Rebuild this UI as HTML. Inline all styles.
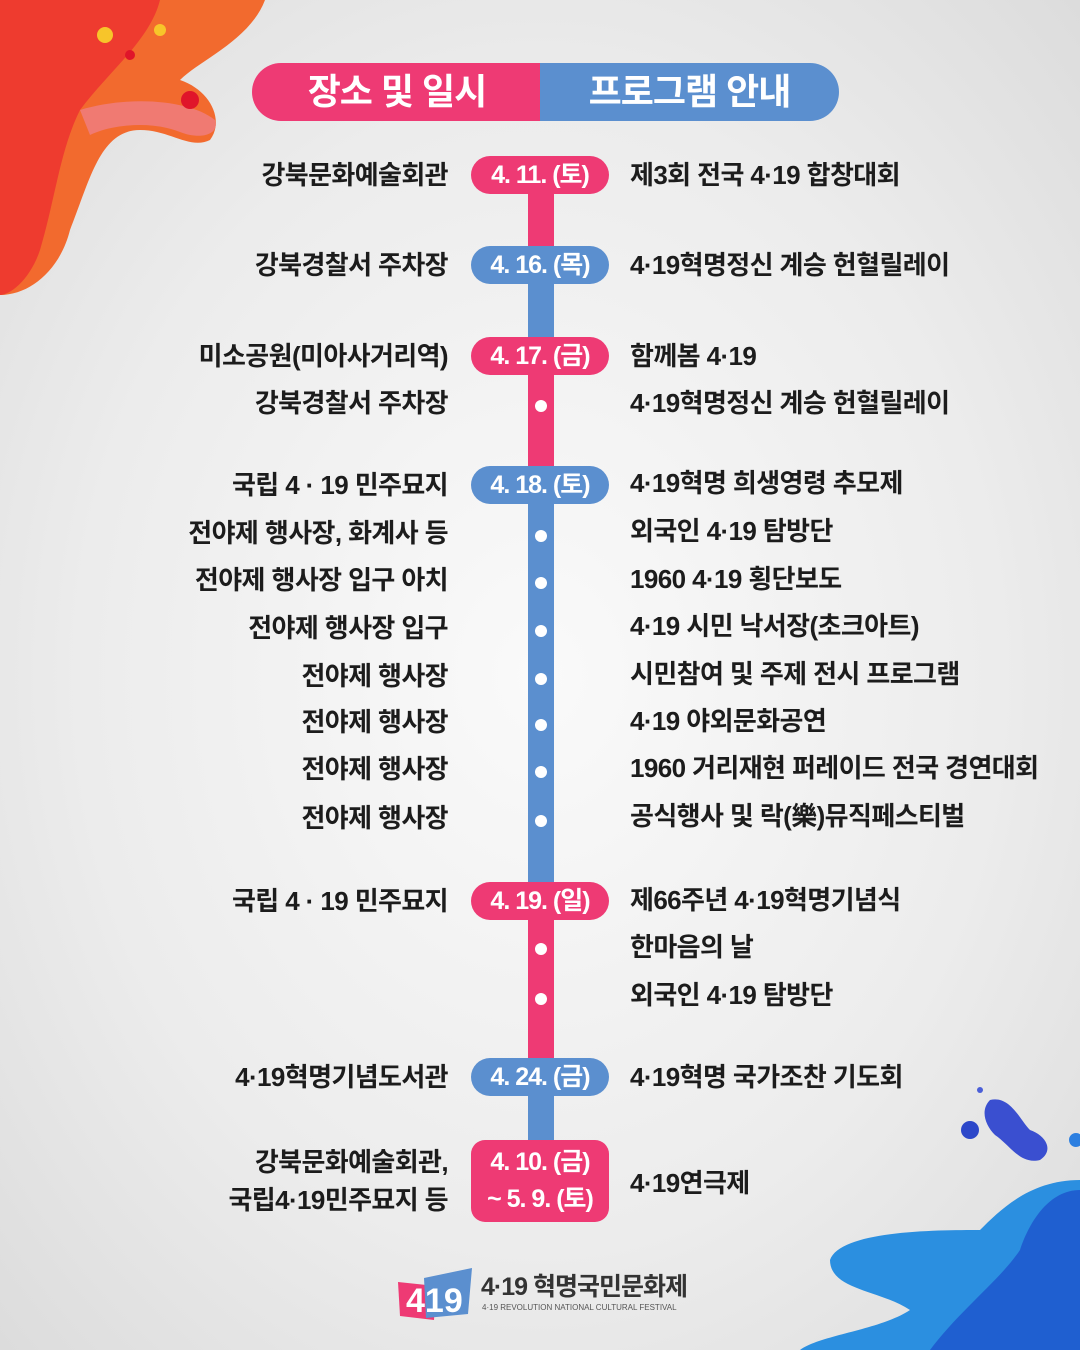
<!DOCTYPE html>
<html><head><meta charset="utf-8"><style>
*{margin:0;padding:0;box-sizing:border-box}
body{width:1080px;height:1350px;overflow:hidden;position:relative;background:radial-gradient(ellipse at 50% 50%,#fafafa 0%,#ececec 60%,#dcdcdc 100%);font-family:"Liberation Sans","Noto Sans CJK KR",sans-serif;font-weight:700;color:#1c1c1c}
.t{position:absolute;font-size:26px;letter-spacing:-0.6px;line-height:30px;white-space:nowrap}
.l{right:632px;text-align:right}
.r{left:630px}
.pill{position:absolute;left:471px;width:138px;height:38px;border-radius:19px;color:#fff;font-size:25px;letter-spacing:-1px;text-align:center;line-height:38px}
.pk{background:#ee3a74}.bl{background:#5b8fcf}
.seg{position:absolute;left:528px;width:26px}
.dot{position:absolute;left:535px;width:12px;height:12px;border-radius:50%;background:#fff}
</style></head><body>
<svg style="position:absolute;left:0;top:0" width="280" height="300">
<path d="M0,0 H265 C250,40 200,60 180,80 C210,90 225,120 210,140 C190,150 170,130 140,130 C100,130 90,180 70,230 C60,270 30,295 0,295 Z" fill="#f26a2e"/>
<path d="M0,0 H160 C150,40 110,70 80,110 C60,150 55,200 40,250 C30,280 10,295 0,295 Z" fill="#ee3b2f"/>
<path d="M80,110 C130,95 190,100 215,120 C220,135 200,140 180,132 C150,120 110,125 90,135 Z" fill="#f07a72"/>
<circle cx="105" cy="35" r="8" fill="#f7c52a"/><circle cx="160" cy="30" r="6" fill="#f7c52a"/><circle cx="130" cy="55" r="5" fill="#e0152a"/><circle cx="190" cy="100" r="9" fill="#e0152a"/>
</svg>
<svg style="position:absolute;left:780px;top:1080px" width="300" height="270">
<path d="M300,100 C250,100 220,130 200,150 C160,150 60,150 50,180 C50,210 100,210 130,230 C100,250 40,255 20,270 H300 Z" fill="#2b8fe0"/>
<path d="M300,110 C270,110 250,140 240,170 C220,200 180,230 150,270 H300 Z" fill="#1f5fd0"/>
<path d="M210,20 C230,15 240,40 250,50 C265,55 275,70 260,80 C240,85 230,65 215,55 C205,45 200,30 210,20 Z" fill="#3a4fd0"/>
<circle cx="190" cy="50" r="9" fill="#2c47c9"/><circle cx="200" cy="10" r="3" fill="#4b5fd8"/><circle cx="296" cy="60" r="7" fill="#2c7fe0"/>
</svg>
<div style="position:absolute;left:252px;top:63px;width:290px;height:58px;background:#ee3a74;border-radius:29px 0 0 29px;color:#fff;font-size:36px;line-height:58px;text-align:center;letter-spacing:-1px">장소 및 일시</div>
<div style="position:absolute;left:540px;top:63px;width:299px;height:58px;background:#5b8fcf;border-radius:0 29px 29px 0;color:#fff;font-size:36px;line-height:58px;text-align:center;letter-spacing:-1px">프로그램 안내</div>

<div class="seg pk" style="top:190px;height:60px"></div>
<div class="seg bl" style="top:280px;height:60px"></div>
<div class="seg pk" style="top:370px;height:100px"></div>
<div class="seg bl" style="top:500px;height:385px"></div>
<div class="seg pk" style="top:915px;height:150px"></div>
<div class="seg bl" style="top:1090px;height:55px"></div>

<div class="pill pk" style="top:156px">4. 11. (토)</div>
<div class="pill bl" style="top:246px">4. 16. (목)</div>
<div class="pill pk" style="top:337px">4. 17. (금)</div>
<div class="pill bl" style="top:466px">4. 18. (토)</div>
<div class="pill pk" style="top:882px">4. 19. (일)</div>
<div class="pill bl" style="top:1058px">4. 24. (금)</div>
<div class="pill pk" style="top:1140px;height:82px;border-radius:14px;line-height:37px;padding-top:4px">4. 10. (금)<br>~ 5. 9. (토)</div>

<div class="dot" style="top:400px"></div>
<div class="dot" style="top:530px"></div><div class="dot" style="top:577px"></div><div class="dot" style="top:625px"></div><div class="dot" style="top:673px"></div><div class="dot" style="top:719px"></div><div class="dot" style="top:766px"></div><div class="dot" style="top:815px"></div>
<div class="dot" style="top:943px"></div><div class="dot" style="top:993px"></div>

<div class="t l" style="top:160px">강북문화예술회관</div><div class="t r" style="top:160px">제3회 전국 4·19 합창대회</div>
<div class="t l" style="top:250px">강북경찰서 주차장</div><div class="t r" style="top:250px">4·19혁명정신 계승 헌혈릴레이</div>
<div class="t l" style="top:341px">미소공원(미아사거리역)</div><div class="t r" style="top:341px">함께봄 4·19</div>
<div class="t l" style="top:388px">강북경찰서 주차장</div><div class="t r" style="top:388px">4·19혁명정신 계승 헌혈릴레이</div>
<div class="t l" style="top:470px">국립 4 · 19 민주묘지</div><div class="t r" style="top:468px">4·19혁명 희생영령 추모제</div>
<div class="t l" style="top:518px">전야제 행사장, 화계사 등</div><div class="t r" style="top:516px">외국인 4·19 탐방단</div>
<div class="t l" style="top:565px">전야제 행사장 입구 아치</div><div class="t r" style="top:564px">1960 4·19 횡단보도</div>
<div class="t l" style="top:613px">전야제 행사장 입구</div><div class="t r" style="top:611px">4·19 시민 낙서장(초크아트)</div>
<div class="t l" style="top:661px">전야제 행사장</div><div class="t r" style="top:659px">시민참여 및 주제 전시 프로그램</div>
<div class="t l" style="top:707px">전야제 행사장</div><div class="t r" style="top:706px">4·19 야외문화공연</div>
<div class="t l" style="top:754px">전야제 행사장</div><div class="t r" style="top:753px">1960 거리재현 퍼레이드 전국 경연대회</div>
<div class="t l" style="top:803px">전야제 행사장</div><div class="t r" style="top:801px">공식행사 및 락(樂)뮤직페스티벌</div>
<div class="t l" style="top:886px">국립 4 · 19 민주묘지</div><div class="t r" style="top:885px">제66주년 4·19혁명기념식</div>
<div class="t r" style="top:932px">한마음의 날</div>
<div class="t r" style="top:980px">외국인 4·19 탐방단</div>
<div class="t l" style="top:1062px">4·19혁명기념도서관</div><div class="t r" style="top:1062px">4·19혁명 국가조찬 기도회</div>
<div class="t l" style="top:1147px">강북문화예술회관,</div>
<div class="t l" style="top:1185px">국립4·19민주묘지 등</div>
<div class="t r" style="top:1168px">4·19연극제</div>

<svg style="position:absolute;left:396px;top:1268px" width="80" height="54">
<polygon points="2,14 40,18 38,52 4,48" fill="#ee3a74"/>
<polygon points="28,10 76,0 72,46 30,50" fill="#5b8fcf"/>
<text x="10" y="44" font-size="34" font-weight="700" fill="#fff" font-family="Liberation Sans">419</text>
</svg>
<div style="position:absolute;left:481px;top:1272px;font-size:25px;color:#333;letter-spacing:-1px;line-height:30px">4·19 혁명국민문화제</div>
<div style="position:absolute;left:482px;top:1303px;font-size:8px;color:#555;font-weight:400;letter-spacing:0">4·19 REVOLUTION NATIONAL CULTURAL FESTIVAL</div>
</body></html>
